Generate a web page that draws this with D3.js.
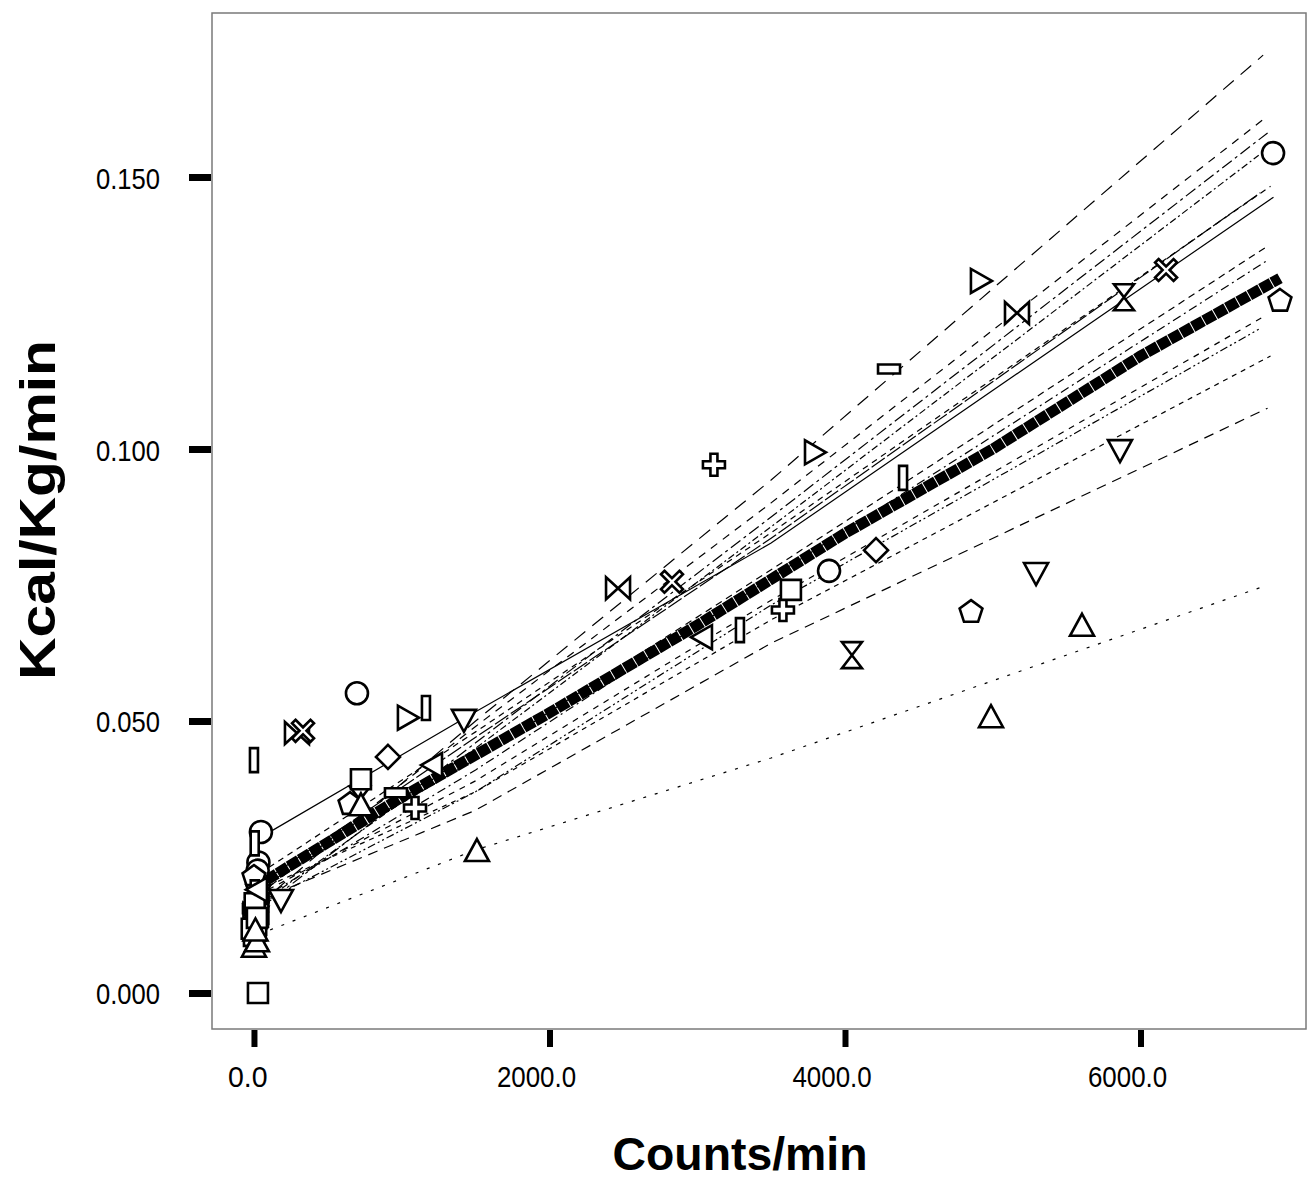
<!DOCTYPE html>
<html>
<head>
<meta charset="utf-8">
<script src="https://cdn.jsdelivr.net/npm/d3@7/dist/d3.min.js"></script>
<style>
  html, body { margin: 0; padding: 0; background: #fff; }
  svg { display: block; }
  text { font-family: "Liberation Sans", Arial, sans-serif; fill: #000; }
</style>
</head>
<body>
<svg id="chart" width="1307" height="1184"></svg>
<script>
// ---------------- DATA ----------------
const xTicks = [0, 2000, 4000, 6000];
const yTicks = [0.000, 0.050, 0.100, 0.150];
const xTitle = "Counts/min";
const yTitle = "Kcal/Kg/min";

// individual subject regression lines: values at [start, 1500, 3500, end] counts
const lineStartCounts = [20, 30, 15, 25, 40, 35, 50, 20, 30, 25, 15, 40, 30, 110];
const lineMidCounts1 = [1500, 1500, 1500, 1500, 1500, 1500, 1500, 1500, 1500, 1500, 1500, 1500, 1500, 1500];
const lineMidCounts2 = [3500, 3500, 3500, 3500, 3500, 3500, 3500, 3500, 3500, 3500, 3500, 3500, 3500, 3500];
const lineEndCounts = [6830, 6860, 6860, 6800, 6880, 6810, 6900, 6860, 6860, 6830, 6800, 6880, 6860, 6860];
const lineStartValues = [0.0160, 0.0180, 0.0150, 0.0160, 0.0220, 0.0200, 0.0287, 0.0190, 0.0170, 0.0180, 0.0160, 0.0190, 0.0170, 0.0116];
const lineMid1Values = [0.0500, 0.0490, 0.0460, 0.0450, 0.0480, 0.0470, 0.0517, 0.0430, 0.0410, 0.0390, 0.0370, 0.0370, 0.0336, 0.0263];
const lineMid2Values = [0.0943, 0.0901, 0.0875, 0.0857, 0.0846, 0.0836, 0.0827, 0.0778, 0.0763, 0.0722, 0.0713, 0.0686, 0.0643, 0.0432];
const lineEndValues = [0.1724, 0.1612, 0.1581, 0.1540, 0.1483, 0.1471, 0.1463, 0.1373, 0.1347, 0.1243, 0.1220, 0.1171, 0.1075, 0.0750];
const lineDashes = ["14,9", "8,7", "12,4,3,4", "7,3,2,3", "6,5", "16,3", "none", "7,5", "9,4,2,4", "6,6", "8,3,2,3,2,3", "5,5", "10,7", "3,9"];

// group mean line
const meanCounts = [10, 1000, 2000, 3000, 4000, 5000, 6000, 6944];
const meanValues = [0.0195, 0.0360, 0.0515, 0.0676, 0.0845, 0.1000, 0.1171, 0.1314];

// observed points: symbol, counts, kcal
const pointSymbols = [
  "circle","circle","circle","circle","circle","circle",
  "triRight","triRight","triRight",
  "bowtie","bowtie","bowtie","bowtie",
  "hourglass","hourglass","hourglass","hourglass","hourglass",
  "xcross","xcross","xcross","xcross",
  "pentagon","pentagon","pentagon","pentagon",
  "hrect","hrect","hrect","hrect","hrect","hrect",
  "plus","plus","plus","plus",
  "triDown","triDown","triDown","triDown","triDown","triDown",
  "vrect","vrect","vrect","vrect","vrect","vrect","vrect","vrect","vrect","vrect","vrect","vrect",
  "diamond","diamond","diamond",
  "square","square","square","square","square","square","square","square","square",
  "triLeft","triLeft","triLeft",
  "triUp","triUp","triUp","triUp","triUp","triUp","triUp"
];
const pointCounts = [
  6897, 3892, 697, 47, 30, 25,
  4920, 3797, 1042,
  5164, 2464, 291, 10,
  5888, 4047, 717, 15, 5,
  6173, 2829, 332, 20,
  6944, 4853, 650, 0,
  4298, 961, 10, 0, 25, 5,
  3113, 3580, 1090, 20,
  5861, 5293, 1421, 183, 30, 15,
  4393, 3289, 1164, 0, 5, 0, 10, 20, 5, -20, 25, -10,
  4210, 907, 10,
  3634, 724, 27, 0, 15, 30, 5, -15, 20,
  3032, 1205, 20,
  5604, 4988, 1509, 724, 0, 20, 10
];
const pointValues = [
  0.1544, 0.0776, 0.0551, 0.0296, 0.0240, 0.0225,
  0.1309, 0.0994, 0.0506,
  0.1250, 0.0744, 0.0478, 0.0145,
  0.1279, 0.0621, 0.0355, 0.0150, 0.0120,
  0.1329, 0.0756, 0.0482, 0.0135,
  0.1274, 0.0702, 0.0349, 0.0215,
  0.1147, 0.0368, 0.0130, 0.0155, 0.0175, 0.0110,
  0.0971, 0.0704, 0.0340, 0.0160,
  0.0998, 0.0772, 0.0502, 0.0171, 0.0180, 0.0140,
  0.0947, 0.0667, 0.0524, 0.0428, 0.0275, 0.0110, 0.0135, 0.0160, 0.0185, 0.0125, 0.0150, 0.0098,
  0.0814, 0.0434, 0.0165,
  0.0741, 0.0393, 0.0000, 0.0105, 0.0125, 0.0145, 0.0165, 0.0118, 0.0138,
  0.0654, 0.0419, 0.0190,
  0.0675, 0.0507, 0.0261, 0.0345, 0.0085, 0.0095, 0.0115
];

// ---------------- DRAW ----------------
const svg = d3.select("#chart");
const frame = { left: 212, top: 13, right: 1306, bottom: 1029 };

const x = d3.scaleLinear().domain([-284, 7120]).range([frame.left, frame.right]);
const y = d3.scaleLinear().domain([-0.00662, 0.18015]).range([frame.bottom, frame.top]);

// frame
svg.append("rect")
  .attr("x", frame.left).attr("y", frame.top)
  .attr("width", frame.right - frame.left).attr("height", frame.bottom - frame.top)
  .attr("fill", "none").attr("stroke", "#7a7a7a").attr("stroke-width", 1.5);

// axes with thick outside ticks
const yAxis = d3.axisLeft(y).tickValues(yTicks).tickSize(0).tickFormat("");
const gy = svg.append("g").attr("transform", `translate(${frame.left - 1},0)`).call(yAxis);
gy.select(".domain").remove();
gy.selectAll(".tick").append("line")
  .attr("x1", -22).attr("x2", 0).attr("stroke", "#000").attr("stroke-width", 7);
gy.selectAll(".tick").append("text")
  .attr("x", -51).attr("y", 11)
  .attr("text-anchor", "end")
  .attr("font-size", 30)
  .attr("textLength", 64).attr("lengthAdjust", "spacingAndGlyphs")
  .attr("fill", "#000")
  .text(d => d3.format(".3f")(d));

const xAxis = d3.axisBottom(x).tickValues(xTicks).tickSize(0).tickFormat("");
const gx = svg.append("g").attr("transform", `translate(0,${frame.bottom + 1})`).call(xAxis);
gx.select(".domain").remove();
gx.selectAll(".tick").append("line")
  .attr("y1", 0).attr("y2", 17).attr("stroke", "#000").attr("stroke-width", 6);
gx.selectAll(".tick").append("text")
  .attr("font-size", 30)
  .attr("y", 57)
  .attr("fill", "#000")
  .text(d => d3.format(".1f")(d))
  .each(function () {
    const t = d3.select(this);
    const s = t.text();
    const w = s.length * 13.2;
    t.attr("textLength", w).attr("lengthAdjust", "spacingAndGlyphs")
     .attr("text-anchor", "middle").attr("x", -0.17 * w);
  });

// axis titles
svg.append("text")
  .attr("x", 740).attr("y", 1170)
  .attr("text-anchor", "middle")
  .attr("font-size", 46).attr("font-weight", "bold")
  .attr("textLength", 255).attr("lengthAdjust", "spacingAndGlyphs")
  .text(xTitle);

svg.append("text")
  .attr("transform", "translate(55,510) rotate(-90)")
  .attr("text-anchor", "middle")
  .attr("font-size", 50).attr("font-weight", "bold")
  .attr("textLength", 340).attr("lengthAdjust", "spacingAndGlyphs")
  .text(yTitle);

// clip to plot area
svg.append("clipPath").attr("id", "clip")
  .append("rect").attr("x", frame.left).attr("y", frame.top)
  .attr("width", frame.right - frame.left).attr("height", frame.bottom - frame.top);
const plot = svg.append("g").attr("clip-path", "url(#clip)");

const line = d3.line().x(d => x(d[0])).y(d => y(d[1]));

// subject lines
lineStartValues.forEach((v0, i) => {
  const pts = [
    [lineStartCounts[i], v0],
    [lineMidCounts1[i], lineMid1Values[i]],
    [lineMidCounts2[i], lineMid2Values[i]],
    [lineEndCounts[i], lineEndValues[i]]
  ];
  plot.append("path")
    .attr("d", line(pts))
    .attr("fill", "none")
    .attr("stroke", "#000")
    .attr("stroke-width", 1.2)
    .attr("stroke-dasharray", lineDashes[i]);
});

// mean line (thick, square-segmented)
const meanPts = meanCounts.map((c, i) => [c, meanValues[i]]);
plot.append("path")
  .attr("d", line(meanPts))
  .attr("fill", "none")
  .attr("stroke", "#000")
  .attr("stroke-width", 11)
  .attr("stroke-linecap", "butt")
  .attr("stroke-dasharray", "12,1");

// marker shapes
function shapePath(s) {
  switch (s) {
    case "circle": return "M11,0A11,11 0 1,1 -11,0A11,11 0 1,1 11,0Z";
    case "square": return "M-10,-10H10V10H-10Z";
    case "triUp": return "M0,-12L12,10H-12Z";
    case "triDown": return "M0,12L12,-10H-12Z";
    case "triLeft": return "M-11,0L10,-12V12Z";
    case "triRight": return "M11,0L-10,-12V12Z";
    case "diamond": return "M0,-12L12,0L0,12L-12,0Z";
    case "pentagon": {
      const p = d3.range(5).map(k => {
        const a = -Math.PI / 2 + k * 2 * Math.PI / 5;
        return [12 * Math.cos(a), 12 * Math.sin(a) + 1];
      });
      return "M" + p.map(q => q.join(",")).join("L") + "Z";
    }
    case "vrect": return "M-4,-12H4V12H-4Z";
    case "hrect": return "M-11,-4.5H11V4.5H-11Z";
    case "hourglass": return "M-10,-13H10L-10,13H10Z";
    case "bowtie": return "M-12,-11V11L12,-11V11Z";
    case "plus": return "M-3.5,-11H3.5V-3.5H11V3.5H3.5V11H-3.5V3.5H-11V-3.5H-3.5Z";
    case "xcross": {
      const a = 3.5, b = 11;
      return `M${-b+a},${-b}L0,${-a}L${b-a},${-b}L${b},${-b+a}L${a},0L${b},${b-a}L${b-a},${b}L0,${a}L${-b+a},${b}L${-b},${b-a}L${-a},0L${-b},${-b+a}Z`;
    }
  }
  return "";
}

plot.selectAll("path.pt")
  .data(pointSymbols.map((s, i) => ({ s, c: pointCounts[i], v: pointValues[i] })))
  .enter().append("path")
  .attr("class", "pt")
  .attr("transform", d => `translate(${x(d.c)},${y(d.v)})`)
  .attr("d", d => shapePath(d.s))
  .attr("fill", "#fff")
  .attr("stroke", "#000")
  .attr("stroke-width", 2.6)
  .attr("stroke-linejoin", "miter");
</script>
</body>
</html>
